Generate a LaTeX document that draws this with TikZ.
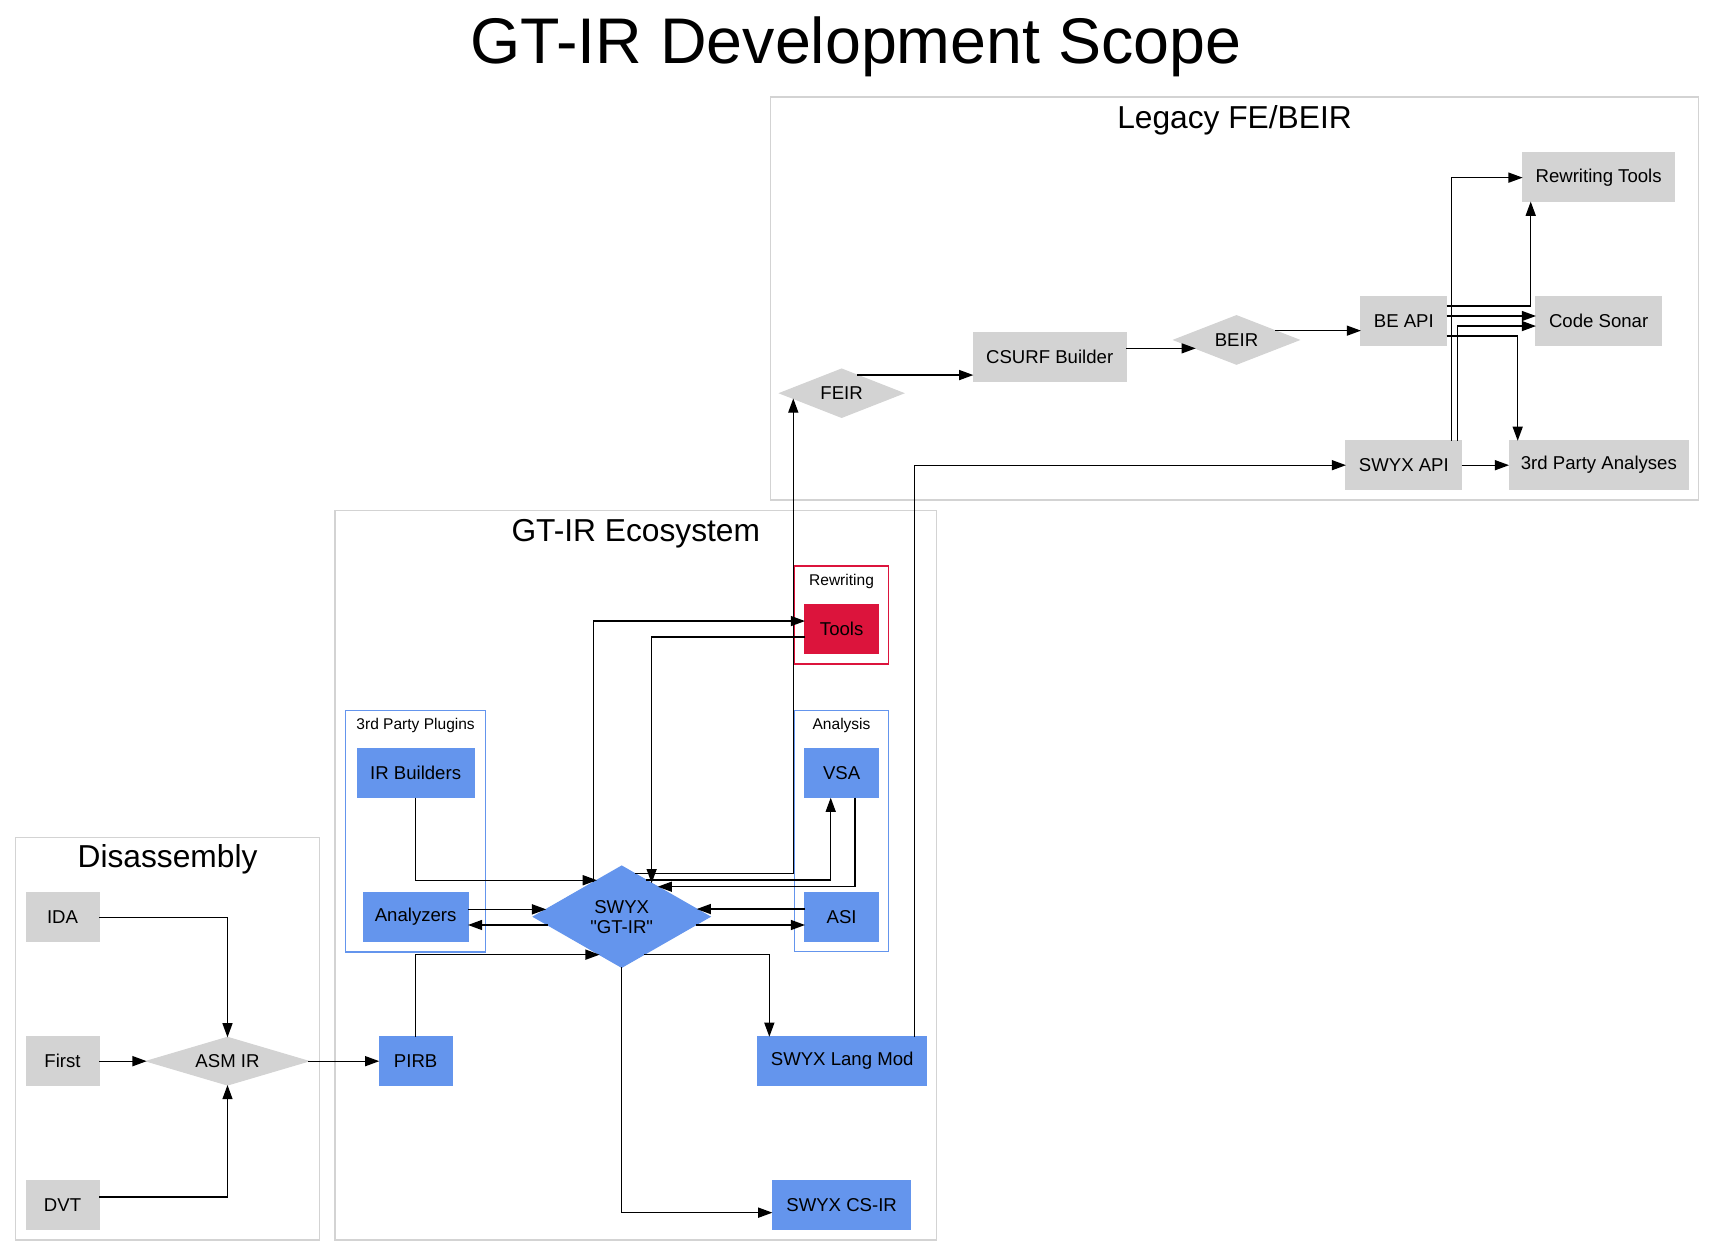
\documentclass[tikz,border=0pt]{standalone}
\usepackage{fontspec}
\setmainfont{Liberation Sans}[Ligatures=TeXOff]
\usetikzlibrary{shapes.geometric,arrows.meta,calc}
\definecolor{lgray}{HTML}{D3D3D3}
\definecolor{cblue}{HTML}{6495ED}
\definecolor{crim}{HTML}{DC143C}
\newcommand\ndfont{\fontsize{8.5pt}{9.15pt}\selectfont}
\begin{document}
\begin{tikzpicture}[x=0.5pt,y=-0.5pt,
  base/.style={inner sep=0pt,outer sep=0pt,font=\ndfont,text=black,line width=0.5pt},
  gbox/.style={base,rectangle,fill=lgray,draw=lgray,minimum height=22.3pt},
  bbox/.style={base,rectangle,fill=cblue,draw=cblue,minimum height=22.3pt},
  rbox/.style={base,rectangle,fill=crim,draw=crim,minimum height=22.3pt},
  gdia/.style={base,diamond,fill=lgray,draw=lgray},
  bdia/.style={base,diamond,fill=cblue,draw=cblue},
  clus/.style={draw=lgray,line width=0.6pt},
  bclus/.style={draw=cblue,line width=0.6pt},
  rclus/.style={draw=crim,line width=0.6pt},
  biglbl/.style={anchor=base,inner sep=0pt,font=\fontsize{14.5pt}{16pt}\selectfont},
  smlbl/.style={anchor=base,inner sep=0pt,font=\fontsize{7.1pt}{8pt}\selectfont},
  arr/.style={draw=black,line width=0.6pt,-{Triangle[length=6.5pt,width=4.6pt]}}]
\useasboundingbox (0,0) rectangle (1568,1148);
\fill[white] (0,0) rectangle (1568,1148);

% title
\node[anchor=base,inner sep=0pt,font=\fontsize{29.5pt}{32pt}\selectfont] (title) at (782.5,58) {GT-IR Development Scope};

% clusters
\draw[clus] (704.6,88.6) rectangle (1552.8,457.1);
\node[biglbl] (lLegacy) at (1128.7,117.3) {Legacy FE/BEIR};
\draw[clus] (306.3,467) rectangle (856.4,1133.7);
\node[biglbl] (lGT) at (581.3,495.3) {GT-IR Ecosystem};
\draw[clus] (14.3,765.6) rectangle (292,1133.7);
\node[biglbl] (lDis) at (153.2,793.3) {Disassembly};
\draw[bclus] (316,649.8) rectangle (444,870.4);
\node[smlbl] (lPlug) at (380,667.3) {3rd Party Plugins};
\draw[bclus] (726.6,649.8) rectangle (812.2,870.2);
\node[smlbl] (lAna) at (769.4,667.3) {Analysis};
\draw[rclus] (726.6,517.5) rectangle (812.2,607.1);
\node[smlbl] (lRew) at (769.4,535.2) {Rewriting};

% disassembly nodes
\node[gbox,minimum width=33.35pt] (IDA) at (57.2,838.6) {IDA};
\node[gbox,minimum width=33.35pt] (First) at (57.2,970.2) {First};
\node[gbox,minimum width=33.35pt] (DVT) at (57.2,1101.9) {DVT};
\node[gdia,minimum width=73.9pt,minimum height=21.8pt,aspect=3.4] (ASM) at (208,970.2) {ASM IR};

% GT-IR ecosystem nodes
\node[bbox,minimum width=33.25pt] (PIRB) at (380,970.2) {PIRB};
\node[bbox,minimum width=53.35pt] (IRB) at (380,707) {IR Builders};
\node[bbox,minimum width=47.85pt] (AN) at (380,838.4) {Analyzers};
\node[bdia,minimum width=80.75pt,minimum height=46.3pt,aspect=1.74,align=center] (SW) at (568.4,838.1) {SWYX\\"GT-IR"};
\node[bbox,minimum width=33.5pt] (VSA) at (769.5,707) {VSA};
\node[bbox,minimum width=33.5pt] (ASI) at (769.5,838.4) {ASI};
\node[rbox,minimum width=33.5pt] (Tools) at (769.5,575.1) {Tools};
\node[bbox,minimum width=77.45pt] (LM) at (770,970.2) {SWYX Lang Mod};
\node[bbox,minimum width=63.3pt] (CSIR) at (769.5,1101.9) {SWYX CS-IR};

% legacy nodes
\node[gdia,minimum width=56.4pt,minimum height=22.1pt,aspect=2.55] (FEIR) at (769.5,359.5) {FEIR};
\node[gbox,minimum width=69.8pt] (CSURF) at (959.7,326.4) {CSURF Builder};
\node[gdia,minimum width=57.1pt,minimum height=22.2pt,aspect=2.57] (BEIR) at (1130.5,310.8) {BEIR};
\node[gbox,minimum width=39.2pt] (BEAPI) at (1283.5,293.6) {BE API};
\node[gbox,minimum width=57.3pt] (CS) at (1461.6,293.6) {Code Sonar};
\node[gbox,minimum width=69.45pt] (RT) at (1461.6,162) {Rewriting Tools};
\node[gbox,minimum width=52.9pt] (SAPI) at (1283.5,425.3) {SWYX API};
\node[gbox,minimum width=82.1pt] (TPA) at (1461.8,425.3) {3rd Party Analyses};

% helper points on diamond borders
\coordinate (p5) at ($(SW.west)!0.75!(SW.south)$);
\coordinate (p6) at ($(SW.west)!0.72!(SW.north)$);
\coordinate (p7a) at ($(SW.west)!0.145!(SW.north)$);
\coordinate (p7b) at ($(SW.west)!0.164!(SW.south)$);
\coordinate (p8a) at ($(SW.east)!0.151!(SW.north)$);
\coordinate (p8b) at ($(SW.east)!0.164!(SW.south)$);
\coordinate (p9) at ($(SW.north)!0.32!(SW.west)$);
\coordinate (p10) at ($(SW.north)!0.339!(SW.east)$);
\coordinate (p11a) at ($(SW.north)!0.145!(SW.east)$);
\coordinate (p11b) at ($(FEIR.west)!0.216!(FEIR.south)$);
\coordinate (p12) at ($(SW.north)!0.276!(SW.east)$);
\coordinate (p13) at ($(SW.north)!0.408!(SW.east)$);
\coordinate (p14) at ($(SW.east)!0.743!(SW.south)$);
\coordinate (p17) at ($(FEIR.north)!0.249!(FEIR.east)$);
\coordinate (p18) at ($(BEIR.west)!0.347!(BEIR.south)$);
\coordinate (p19) at ($(BEIR.east)!0.383!(BEIR.north)$);

% edges: disassembly
\draw[arr] (IDA.east) -| (ASM.north);
\draw[arr] (First) -- (ASM);
\draw[arr] (DVT.east |- 0,1094.4) -| (ASM.south);
\draw[arr] (ASM) -- (PIRB);

% edges: ecosystem
\draw[arr] (PIRB.north) |- (p5);
\draw[arr] (IRB.south) |- (p6);
\draw[arr] (AN.east |- p7a) -- (p7a);
\draw[arr] (p7b) -- (AN.east |- p7b);
\draw[arr] (ASI.west |- p8a) -- (p8a);
\draw[arr] (p8b) -- (ASI.west |- p8b);
\draw[arr] (p9) |- (Tools.west |- 0,567.8);
\draw[arr] (Tools.west |- 0,582.4) -| (p10);
\draw[arr] (p11a) -| (p11b);
\draw[arr] (p12) -| (VSA.south -| 759.5,0);
\draw[arr] (VSA.south -| 781.7,0) |- (p13);
\draw[arr] (p14) -| (LM.north -| 703.4,0);
\draw[arr] (SW.south) |- (CSIR.west |- 0,1108.7);
\draw[arr] (LM.north -| 836.3,0) |- (SAPI.west);

% edges: legacy
\draw[arr] (p17) -- (CSURF.west |- p17);
\draw[arr] (CSURF.east |- p18) -- (p18);
\draw[arr] (p19) -- (BEAPI.west |- p19);
\draw[arr] (BEAPI.east |- 0,279.8) -| (RT.south -| 1399.5,0);
\draw[arr] (BEAPI.east |- 0,288.9) -- (CS.west |- 0,288.9);
\draw[arr] (SAPI.north -| 1332.7,0) |- (CS.west |- 0,298.1);
\draw[arr] (BEAPI.east |- 0,307.2) -| (TPA.north -| 1387.6,0);
\draw[arr] (SAPI.north -| 1327.2,0) |- (RT.west |- 0,162.4);
\draw[arr] (SAPI) -- (TPA);
\end{tikzpicture}
\end{document}
